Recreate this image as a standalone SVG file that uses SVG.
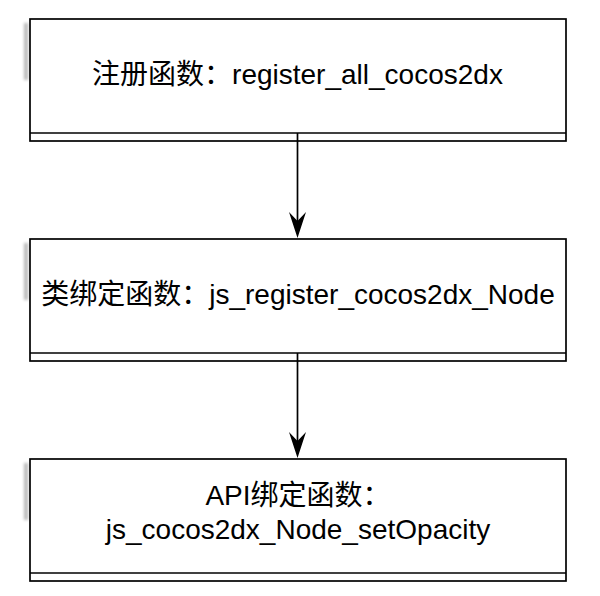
<svg xmlns="http://www.w3.org/2000/svg" width="600" height="596" viewBox="0 0 600 596">
<style>
.box{fill:#fff;stroke:#000;stroke-width:1.7}
.sep{stroke:#000;stroke-width:1.7;fill:none}
.lbl{font-family:"Liberation Sans","Noto Sans CJK SC",sans-serif;font-size:28px;fill:#000;text-anchor:middle}
.edge{stroke:#000;stroke-width:1.7;fill:none}
.head{fill:#000}
.shadow{fill:#8a8a8a;opacity:0.6;filter:url(#blur)}
</style>
<defs>
<filter id="blur" x="-2" y="-0.5" width="5" height="2"><feGaussianBlur stdDeviation="1.4"/></filter>
</defs>
<rect width="600" height="596" fill="#fff"/>
<g id="node1">
<rect class="shadow" x="24" y="23" width="4" height="57"/>
<rect class="box" x="30" y="19" width="536" height="122"/>
<line class="sep" x1="30" y1="133" x2="566" y2="133"/>
<text class="lbl" x="297.5" y="84">注册函数：register_all_cocos2dx</text>
</g>
<g id="node2">
<rect class="shadow" x="24" y="243" width="4" height="57"/>
<rect class="box" x="30" y="239" width="536" height="122"/>
<line class="sep" x1="30" y1="353" x2="566" y2="353"/>
<text class="lbl" x="298" y="304">类绑定函数：js_register_cocos2dx_Node</text>
</g>
<g id="node3">
<rect class="shadow" x="24" y="463" width="4" height="57"/>
<rect class="box" x="30" y="459" width="536" height="122"/>
<line class="sep" x1="30" y1="573" x2="566" y2="573"/>
<text class="lbl" x="298" y="505">API绑定函数：</text>
<text class="lbl" x="298" y="539">js_cocos2dx_Node_setOpacity</text>
</g>
<g id="connectors">
<line class="edge" x1="297.5" y1="133" x2="297.5" y2="222"/>
<path class="head" d="M297.5,238 L289,212 L297.5,221 L306,212 Z"/>
<line class="edge" x1="297.5" y1="353" x2="297.5" y2="442"/>
<path class="head" d="M297.5,458 L289,432 L297.5,441 L306,432 Z"/>
</g>
</svg>
